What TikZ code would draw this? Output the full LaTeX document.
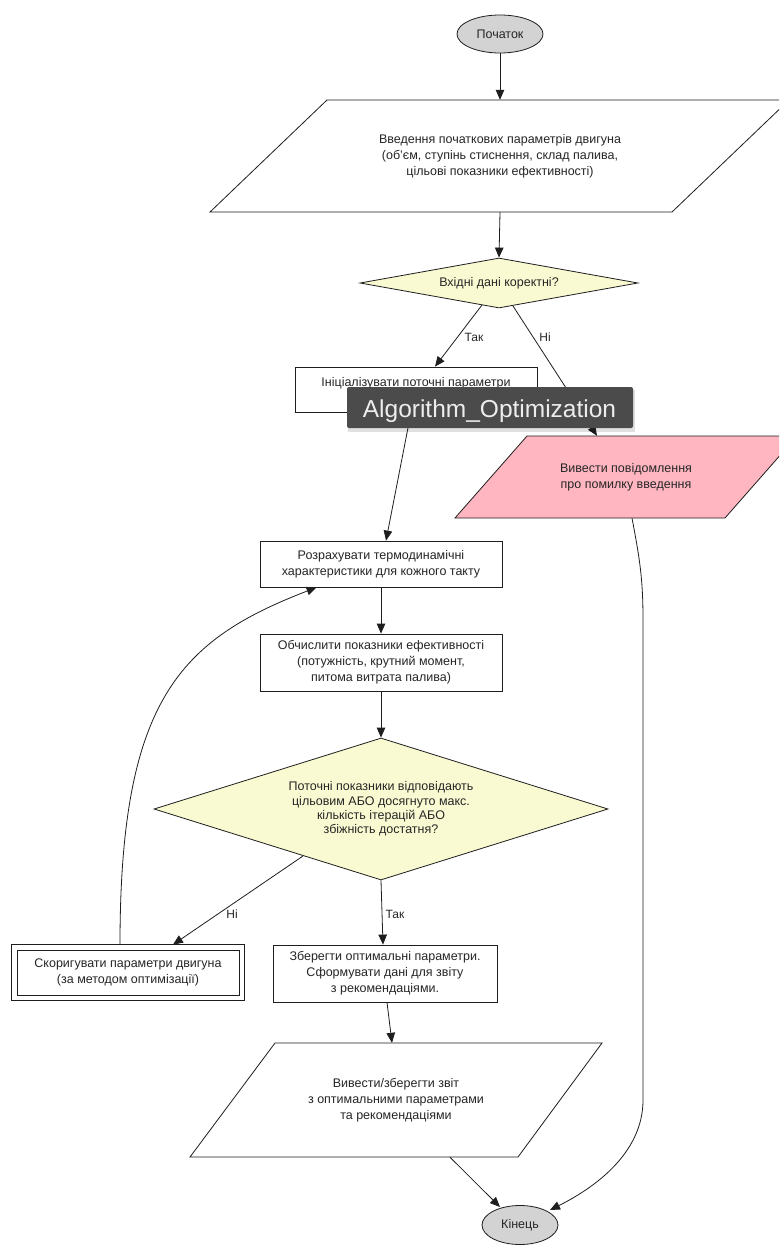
\documentclass[tikz,border=0pt]{standalone}
\usepackage{fontspec}
\setmainfont{Liberation Sans}
\usetikzlibrary{shapes.geometric,arrows.meta,calc}
\definecolor{nodegrey}{HTML}{D3D3D3}
\definecolor{decfill}{HTML}{FAFAD2}
\definecolor{errfill}{HTML}{FFB6C1}
\definecolor{tipbg}{HTML}{4B4B4B}
\definecolor{tipfg}{HTML}{EDEDED}
\definecolor{edge}{HTML}{1E1E1E}

\begin{document}
\begin{tikzpicture}[x=1pt,y=-1pt,
  every node/.style={font=\fontsize{12.5}{15.8}\selectfont, align=center, text=black!85},
  term/.style={ellipse, draw=edge, fill=nodegrey, line width=0.8pt, inner sep=0pt},
  proc/.style={rectangle, draw=edge, fill=white, line width=0.8pt, inner sep=0pt},
  cond/.style={diamond, draw=edge, fill=decfill, line width=0.8pt, inner sep=0pt},
  io/.style={draw=edge, line width=0.8pt},
  lbl/.style={inner sep=0pt},
  elabel/.style={inner sep=0pt, font=\fontsize{12}{14}\selectfont},
  flow/.style={draw=edge, line width=0.8pt, -{Triangle[length=10pt,width=8.5pt]}},
  tipbox/.style={rectangle, fill=tipbg, rounded corners=2pt, inner sep=0pt}
]
\useasboundingbox (0,0) rectangle (779,1247);
\clip (0,0) rectangle (779,1247);
\fill[white] (0,0) rectangle (779,1247);

% start / end terminals
\node[term, minimum width=86pt, minimum height=38pt] (start) at (500,34) {Початок};

% engine parameter input
\filldraw[io, fill=white] (327,100) -- (789,100) -- (672,212) -- (210,212) -- cycle;
\node[lbl, minimum height=112pt] (inp) at (500,156)
  {Введення початкових параметрів двигуна\\(об'єм, ступінь стиснення, склад палива,\\цільові показники ефективності)};

% input validation
\node[cond, aspect=5.56, minimum width=278pt, minimum height=50pt] (chk) at (499,283) {Вхідні дані коректні?};

% initialisation
\node[proc, minimum width=242pt, minimum height=45pt] (init) at (416,389.5) {};
\node[lbl] (initlbl) at (416,383) {Ініціалізувати поточні параметри};

% input error output
\filldraw[io, fill=errfill] (527,436) -- (797,436) -- (725,518) -- (455,518) -- cycle;
\node[lbl, minimum height=82pt] (err) at (626,477) {Вивести повідомлення\\про помилку введення};

% optimisation loop
\node[proc, minimum width=242pt, minimum height=46pt] (thermo) at (381,564)
  {Розрахувати термодинамічні\\характеристики для кожного такту};
\node[proc, minimum width=242pt, minimum height=57pt] (perf) at (381,662.5)
  {Обчислити показники ефективності\\(потужність, крутний момент,\\питома витрата палива)};
\node[cond, aspect=3.2, minimum width=454pt, minimum height=142pt, font=\fontsize{12.5}{14.4}\selectfont] (conv) at (381,809)
  {Поточні показники відповідають\\цільовим АБО досягнуто макс.\\кількість ітерацій АБО\\збіжність достатня?};
\node[proc, minimum width=222pt, minimum height=45pt] (adj) at (128,972.5)
  {Скоригувати параметри двигуна\\(за методом оптимізації)};
\draw[draw=edge, line width=0.8pt] ([shift={(-5,-5)}]adj.north west) rectangle ([shift={(5,5)}]adj.south east);
\node[proc, minimum width=224pt, minimum height=57pt] (store) at (385,973.5)
  {Зберегти оптимальні параметри.\\Сформувати дані для звіту\\з рекомендаціями.};

% report output
\filldraw[io, fill=white] (275,1043) -- (602,1043) -- (518,1157) -- (190,1157) -- cycle;
\node[lbl, minimum height=114pt] (rep) at (396,1100)
  {Вивести/зберегти звіт\\з оптимальними параметрами\\та рекомендаціями};

\node[term, minimum width=76pt, minimum height=39pt] (fin) at (520,1225) {Кінець};

% connectors
\draw[flow] (start.south) -- (inp.north);
\draw[flow] (inp.south) -- (chk.north);
\draw[flow] ([shift={(-17,22)}]chk.center) -- ([xshift=19]init.north);
\node[elabel] (yes1) at (474,337) {Так};
\draw[flow] ([shift={(14,23)}]chk.center) -- ([xshift=-29]err.north);
\node[elabel] (no1) at (545,337) {Ні};
\draw[flow] ([xshift=-5]init.south) -- ([xshift=5]thermo.north);
\draw[flow] (thermo.south) -- (perf.north);
\draw[flow] (perf.south) -- (conv.north);
\draw[flow] ([shift={(-78,47)}]conv.center) -- ([shift={(45,-5)}]adj.north);
\node[elabel] (no2) at (232,914) {Ні};
\draw[flow] (conv.south) -- ([xshift=-2]store.north);
\node[elabel] (yes2) at (395,914) {Так};
\draw[flow] ([xshift=2]store.south) -- ([xshift=-4]rep.north);
\draw[flow] ([xshift=54]rep.south) -- ([shift={(-20,-18)}]fin.center);
\draw[flow] ([xshift=6]err.south) .. controls (640,560) and (643,580) .. (643,620)
  -- (643,1100) .. controls (643,1150) and (600,1185) .. ([shift={(30,-15)}]fin.center);
\draw[flow] ([shift={(-8,-5)}]adj.north) .. controls (120,700) and (180,640) .. ([xshift=57]thermo.south west);

% name tooltip
\fill[black, opacity=0.12] (348,390) rectangle (635,432);
\node[tipbox, minimum width=286pt, minimum height=41pt] (tip) at (490,407.5) {};
\node[anchor=base, inner sep=0pt, font=\fontsize{24.5}{28}\selectfont, text=tipfg] (tiptext) at (489.5,417) {Algorithm\_Optimization};
\end{tikzpicture}
\end{document}
